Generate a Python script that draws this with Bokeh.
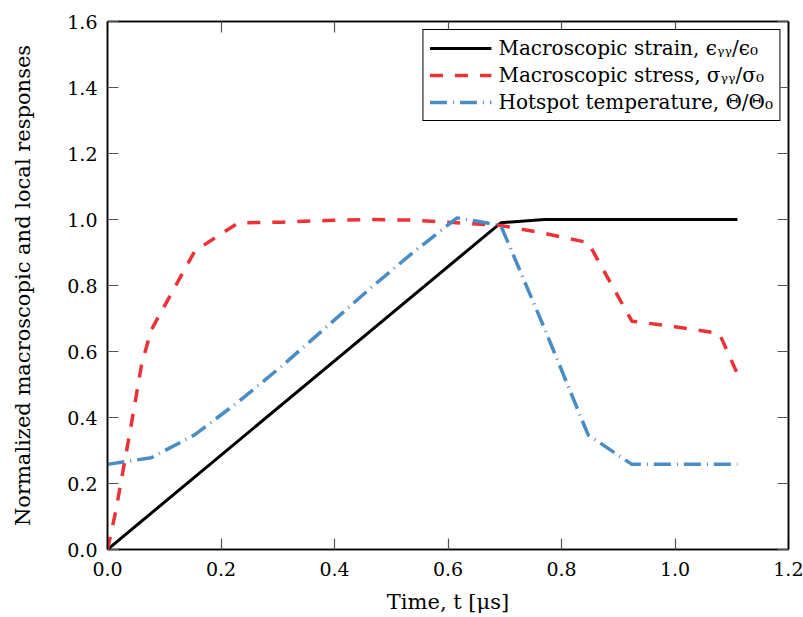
from bokeh.plotting import figure
from bokeh.models import (LinearAxis, FixedTicker, PrintfTickFormatter, Range1d,
                          Legend, LegendItem)
from bokeh.embed import file_html
from bokeh.resources import INLINE

# ---- data ----
strain_t = [0.0, 0.693, 0.77, 1.11]
strain_v = [0.0, 0.99, 1.0, 1.0]

stress_t = [0.0, 0.005, 0.015, 0.04, 0.06, 0.077, 0.154, 0.231, 0.308, 0.385,
            0.462, 0.539, 0.616, 0.693, 0.77, 0.847, 0.924, 1.0, 1.078, 1.11]
stress_v = [0.0, 0.04, 0.12, 0.36, 0.56, 0.665, 0.905, 0.99, 0.992, 0.997,
            1.0, 0.998, 0.99, 0.982, 0.958, 0.93, 0.692, 0.675, 0.655, 0.532]

temp_t = [0.0, 0.077, 0.154, 0.231, 0.308, 0.385, 0.462, 0.539, 0.616, 0.693,
          0.77, 0.847, 0.924, 1.0, 1.11]
temp_v = [0.258, 0.278, 0.348, 0.448, 0.557, 0.673, 0.79, 0.901, 1.005, 0.982,
          0.67, 0.347, 0.258, 0.258, 0.258]

x_ticks = [0.0, 0.2, 0.4, 0.6, 0.8, 1.0, 1.2]
y_ticks = [0.0, 0.2, 0.4, 0.6, 0.8, 1.0, 1.2, 1.4, 1.6]

labels = ["Macroscopic strain, \u03f5\u1d67\u1d67/\u03f5\u2080",
          "Macroscopic stress, \u03c3\u1d67\u1d67/\u03c3\u2080",
          "Hotspot temperature, \u0398/\u0398\u2080"]

FONT = "DejaVu Serif"
RED = "#EC3237"
BLUE = "#4A8CC6"

p = figure(width=803, height=617, output_backend="svg", toolbar_location=None,
           x_range=Range1d(0, 1.2), y_range=Range1d(0, 1.6),
           min_border_left=107, min_border_right=15,
           min_border_top=21, min_border_bottom=68)
p.grid.visible = False
p.outline_line_color = "black"
p.outline_line_width = 1.5
p.background_fill_color = "white"

r1 = p.line(strain_t, strain_v, line_color="black", line_width=3)
r2 = p.line(stress_t, stress_v, line_color=RED, line_width=3.5, line_dash="13 12")
r3 = p.line(temp_t, temp_v, line_color=BLUE, line_width=3.5, line_dash="17 6 1 6")

xa = p.xaxis[0]
xa.ticker = FixedTicker(ticks=x_ticks)
ya = p.yaxis[0]
ya.ticker = FixedTicker(ticks=y_ticks)
for ax in (xa, ya):
    ax.formatter = PrintfTickFormatter(format="%.1f")
    ax.major_tick_in = 11
    ax.major_tick_out = 0
    ax.minor_tick_line_color = None
    ax.major_tick_line_color = "#555555"
    ax.major_tick_line_width = 1.2
    ax.axis_line_color = "black"
    ax.axis_line_width = 1.5
    ax.major_label_text_font = FONT
    ax.major_label_text_font_size = "19px"
    ax.major_label_text_color = "black"
    ax.axis_label_text_font = FONT
    ax.axis_label_text_font_size = "21px"
    ax.axis_label_text_font_style = "normal"
    ax.axis_label_text_color = "black"

xa.axis_label = "Time, t [\u03bcs]"
xa.major_label_standoff = 12
xa.axis_label_standoff = 11
ya.axis_label = "Normalized macroscopic and local responses"
ya.major_label_standoff = 10
ya.axis_label_standoff = 29

# mirrored tick marks on top and right (minor ticks only, so no labels are drawn)
top = LinearAxis(ticker=FixedTicker(ticks=[], minor_ticks=x_ticks))
right = LinearAxis(ticker=FixedTicker(ticks=[], minor_ticks=y_ticks))
for ax in (top, right):
    ax.minor_tick_in = 11
    ax.minor_tick_out = 0
    ax.minor_tick_line_color = "#555555"
    ax.minor_tick_line_width = 1.2
    ax.major_tick_line_color = None
    ax.axis_line_color = "black"
    ax.axis_line_width = 1.5
    ax.major_label_standoff = 0
p.add_layout(top, "above")
p.add_layout(right, "right")

legend = Legend(items=[LegendItem(label=labels[0], renderers=[r1]),
                       LegendItem(label=labels[1], renderers=[r2]),
                       LegendItem(label=labels[2], renderers=[r3])],
                location="top_right")
legend.label_text_font = FONT
legend.label_text_font_size = "20px"
legend.label_text_color = "black"
legend.glyph_width = 62
legend.glyph_height = 22
legend.label_height = 22
legend.label_standoff = 7
legend.spacing = 3
legend.padding = 6
legend.margin = 8
legend.border_line_color = "black"
legend.border_line_width = 1.3
legend.border_line_alpha = 1
legend.background_fill_alpha = 1
p.add_layout(legend)

open("out.html", "w").write(file_html(p, INLINE))
